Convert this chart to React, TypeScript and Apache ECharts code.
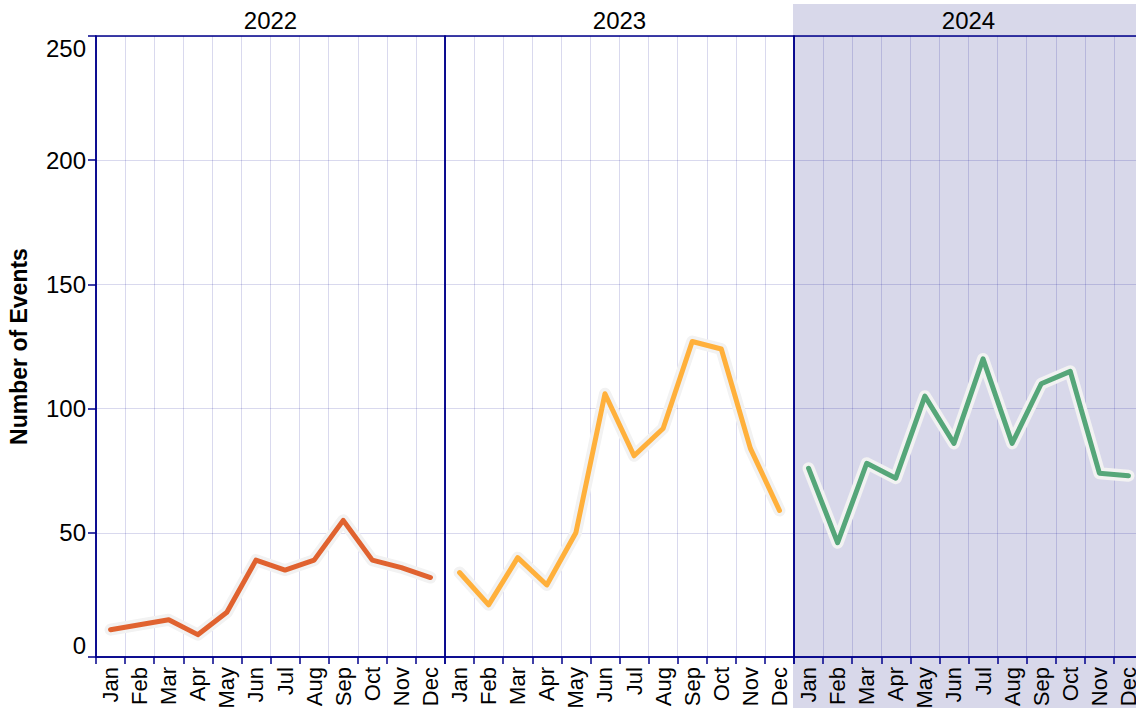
import React, { useEffect, useRef } from 'react';
import * as echarts from 'echarts';

const months = ['Jan', 'Feb', 'Mar', 'Apr', 'May', 'Jun', 'Jul', 'Aug', 'Sep', 'Oct', 'Nov', 'Dec'];
const years = ['2022', '2023', '2024'];
const events2022 = [11, 13, 15, 9, 18, 39, 35, 39, 55, 39, 36, 32];
const events2023 = [34, 21, 40, 29, 50, 106, 81, 92, 127, 124, 84, 59];
const events2024 = [76, 46, 78, 72, 105, 86, 120, 86, 110, 115, 74, 73];
const yearValues = [events2022, events2023, events2024];
const lineColors = ['#e0622f', '#ffb03b', '#55a679'];
const yMin = 0;
const yMax = 250;
const yInterval = 50;
const yTitle = 'Number of Events';
const highlightedYear = 2;

const NAVY = '#00008b';
const GRID = 'rgba(0,0,139,0.15)';
const FONT = '"Liberation Sans", Arial, sans-serif';

const PLOT_LEFT = 96;
const PANEL_W = 349;
const PLOT_TOP = 36;
const PLOT_H = 621;

export default function App() {
  const ref = useRef<HTMLDivElement>(null);

  useEffect(() => {
    if (!ref.current) return;
    const chart = echarts.init(ref.current, null, { renderer: 'svg' });

    const grids = years.map((_, i) => ({
      left: PLOT_LEFT + i * PANEL_W,
      top: PLOT_TOP,
      width: PANEL_W,
      height: PLOT_H,
      show: true,
      borderColor: NAVY,
      borderWidth: 1.5,
      backgroundColor: 'transparent',
      containLabel: false,
      outerBoundsMode: 'none',
    }));

    const xAxes = years.map((_, i) => ({
      type: 'category',
      gridIndex: i,
      data: months,
      boundaryGap: true,
      axisLine: { show: true, lineStyle: { color: NAVY, width: 1.5 } },
      axisTick: { show: true, interval: 0, length: 7, lineStyle: { color: NAVY, width: 1.5 } },
      axisLabel: {
        interval: 0,
        rotate: 90,
        margin: 10,
        fontSize: 22,
        color: '#000',
        fontFamily: FONT,
        hideOverlap: false,
      },
      splitLine: { show: true, interval: 0, lineStyle: { color: GRID, width: 1 } },
    }));

    const yAxes = years.map((_, i) => ({
      type: 'value',
      gridIndex: i,
      min: yMin,
      max: yMax,
      interval: yInterval,
      axisLine: { show: i === 0, lineStyle: { color: NAVY, width: 1.5 } },
      axisTick: { show: i === 0, length: 8, lineStyle: { color: NAVY, width: 1.5 } },
      axisLabel: {
        show: i === 0,
        margin: 10,
        fontSize: 24,
        color: '#000',
        fontFamily: FONT,
        verticalAlignMinLabel: 'bottom',
        verticalAlignMaxLabel: 'top',
      },
      splitLine: { show: true, lineStyle: { color: GRID, width: 1 } },
    }));

    const series: any[] = [];
    yearValues.forEach((vals, i) => {
      series.push({
        type: 'line',
        xAxisIndex: i,
        yAxisIndex: i,
        data: vals,
        symbol: 'none',
        silent: true,
        z: 2,
        lineStyle: { color: '#f2f2f2', width: 12, cap: 'round', join: 'round' },
      });
      series.push({
        type: 'line',
        name: years[i],
        xAxisIndex: i,
        yAxisIndex: i,
        data: vals,
        symbol: 'none',
        z: 3,
        lineStyle: { color: lineColors[i], width: 5, cap: 'round', join: 'round' },
      });
    });

    const graphics: any[] = [
      {
        type: 'rect',
        z: -10,
        silent: true,
        shape: { x: PLOT_LEFT + highlightedYear * PANEL_W - 1, y: 4, width: PANEL_W + 20, height: 720 },
        style: { fill: '#d8d8ea' },
      },
      ...years.map((y, i) => ({
        type: 'text',
        z: 10,
        x: PLOT_LEFT + i * PANEL_W + PANEL_W / 2,
        y: 20,
        style: {
          text: y,
          fontSize: 24,
          fontFamily: FONT,
          fill: '#000',
          textAlign: 'center',
          textVerticalAlign: 'middle',
        },
      })),
      {
        type: 'text',
        z: 10,
        x: 19,
        y: PLOT_TOP + PLOT_H / 2,
        rotation: Math.PI / 2,
        style: {
          text: yTitle,
          fontSize: 23,
          fontWeight: 'bold',
          fontFamily: FONT,
          fill: '#000',
          textAlign: 'center',
          textVerticalAlign: 'middle',
        },
      },
    ];

    chart.setOption({
      animation: false,
      backgroundColor: '#ffffff',
      grid: grids,
      xAxis: xAxes,
      yAxis: yAxes,
      series,
      graphic: graphics,
    });

    return () => chart.dispose();
  }, []);

  return (
    <div
      ref={ref}
      style={{ position: 'fixed', left: 0, top: 0, width: 1136, height: 708 }}
    />
  );
}
